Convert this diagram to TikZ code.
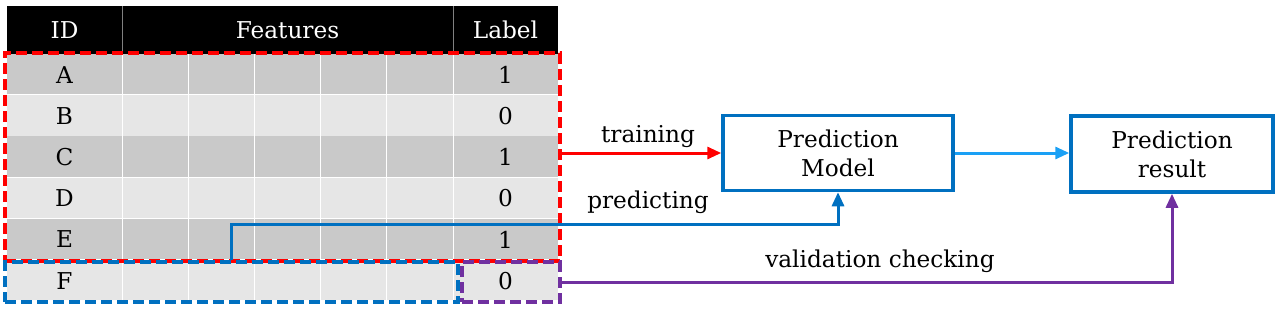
\documentclass[tikz,border=0pt]{standalone}
\usepackage{fontspec}
\setmainfont{DejaVu Serif}
\usetikzlibrary{arrows.meta}
\definecolor{rowdark}{HTML}{C9C9C9}
\definecolor{rowlight}{HTML}{E6E6E6}
\definecolor{boxblue}{HTML}{0070C0}
\definecolor{lightblue}{HTML}{1AA0F5}
\definecolor{vpurple}{HTML}{7030A0}
\definecolor{vred}{HTML}{FF0000}
\begin{document}
\begin{tikzpicture}[x=1pt,y=-1pt,
  every node/.style={font=\fontsize{23.2}{29}\selectfont, inner sep=0pt},
  dashbox/.style={draw, line width=4pt, dash pattern=on 11pt off 5pt, rectangle, fill=none},
  procbox/.style={draw=boxblue, line width=3.5pt, rectangle, align=center, fill=white},
  conn/.style={line width=3pt, -{Triangle[length=14pt,width=12pt]}},
  celltxt/.style={text=black, anchor=center},
  headtxt/.style={text=white, anchor=center}]
\useasboundingbox (0,0) rectangle (1280,314);
% header
\fill[black] (7,6) rectangle (558,54);
\draw[gray, line width=1pt] (122,6) -- (122,54) (453,6) -- (453,54);
\node[headtxt] (hID) at (64.5,30) {ID};
\node[headtxt] (hF) at (287.5,30) {Features};
\node[headtxt] (hL) at (505.5,30) {Label};
% rows
\foreach \i/\id/\lab/\col in {0/A/1/rowdark,1/B/0/rowlight,2/C/1/rowdark,3/D/0/rowlight,4/E/1/rowdark,5/F/0/rowlight}{
  \pgfmathsetmacro{\ytop}{54+41.2*\i}
  \pgfmathsetmacro{\ybot}{54+41.2*(\i+1)}
  \pgfmathsetmacro{\ymid}{54+41.2*(\i+0.5)}
  \fill[\col] (7,\ytop) rectangle (558,\ybot);
  \draw[white, line width=1.5pt] (7,\ybot) -- (558,\ybot);
  \node[celltxt] (id\id) at (64.5,\ymid) {\id};
  \node[celltxt] (lab\id) at (505.5,\ymid) {\lab};
}
\foreach \x in {122,188.2,254.4,320.6,386.8,453}{
  \draw[white, line width=1pt] (\x,54) -- (\x,301);
}
% dashed groups
\node[dashbox, draw=vred, minimum width=555pt, minimum height=208pt] (train) at (282.5,157) {};
\node[dashbox, draw=boxblue, minimum width=453pt, minimum height=40pt] (predF) at (231.5,282) {};
\node[dashbox, draw=vpurple, minimum width=98pt, minimum height=40pt] (valF) at (511,282) {};
% process boxes
\node[procbox, minimum width=230pt, minimum height=75pt] (model) at (838,153) {Prediction\\Model};
\node[procbox, minimum width=202pt, minimum height=76pt] (result) at (1172,154) {Prediction\\result};
% connectors
\draw[conn, vred] (train.east |- model.west) -- (model.west);
\draw[conn, lightblue] (model.east) -- (model.east -| result.west);
\draw[conn, boxblue] (predF.north) -- ++(0,-36) -| (model.south);
\draw[conn, vpurple] (valF.east) -| (result.south);
% labels
\node[anchor=base] (ltrain) at (648,142) {training};
\node[anchor=base] (lpred) at (648,208) {predicting};
\node[anchor=base] (lval) at (880,267) {validation checking};
\end{tikzpicture}
\end{document}
